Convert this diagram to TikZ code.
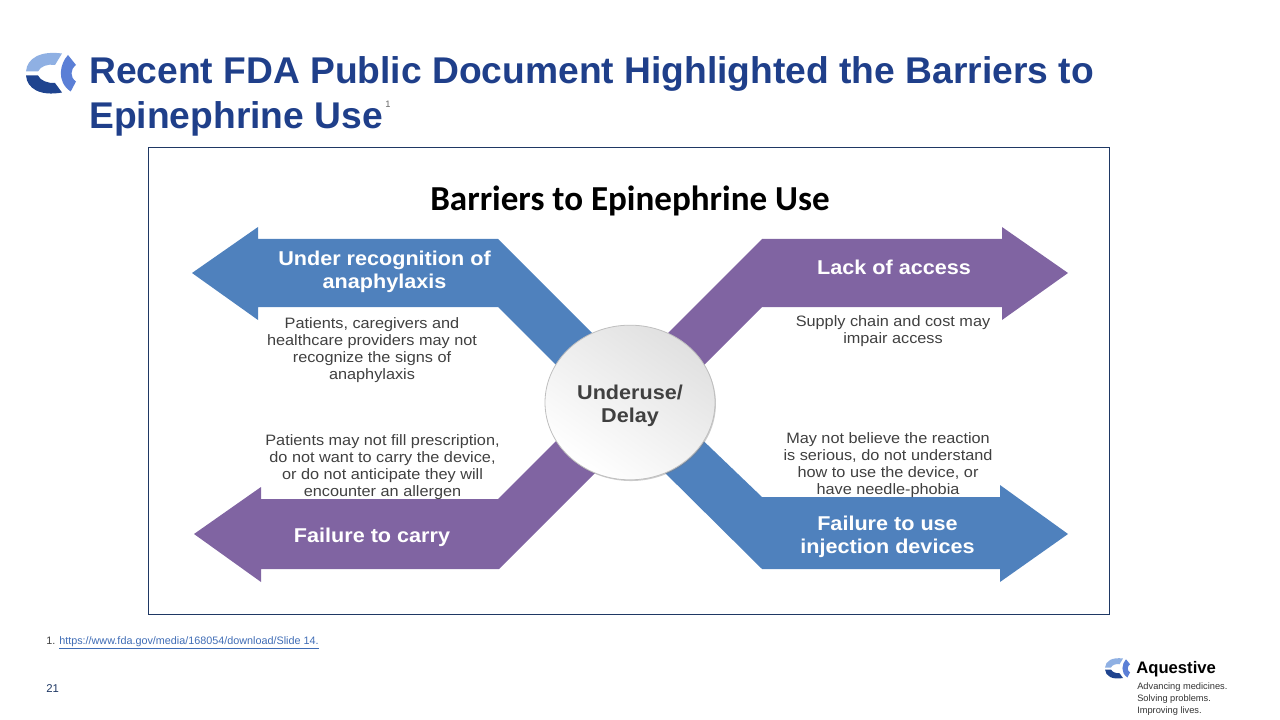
\documentclass[tikz,border=0pt]{standalone}
\usepackage{fontspec}
\setmainfont{Liberation Sans}
\newfontfamily\calibrifont{Carlito}
\newfontfamily\widefont[FakeStretch=1.08]{Liberation Sans}
\usetikzlibrary{shadows,shapes.geometric}
\definecolor{titleblue}{HTML}{1F3F8A}
\definecolor{arrowblue}{HTML}{4F81BD}
\definecolor{arrowpurple}{HTML}{8064A2}
\definecolor{framenavy}{HTML}{1F3864}
\definecolor{bodygrey}{HTML}{404040}
\definecolor{linkblue}{HTML}{3F6CB5}
\definecolor{logolight}{HTML}{8FB0E3}
\definecolor{logomid}{HTML}{5B7FD6}
\definecolor{logodark}{HTML}{1F448F}
\tikzset{
  armlabel/.style={text=white,font=\widefont\bfseries\fontsize{15}{17}\selectfont,align=center},
  desc/.style={text=bodygrey,font=\widefont\fontsize{11.3}{12.7}\selectfont,align=center},
  small/.style={font=\fontsize{6.95}{8.8}\selectfont,align=left,text=black!80},
  logomark/.pic={
    \fill[logolight] (-24,-2) .. controls (-23,-15) and (-10,-23) .. (12,-20) -- (5,-8.5) .. controls (-2,-10) and (-10,-7) .. (-12,-2) -- cycle;
    \fill[logodark] (-24,2) .. controls (-23,15) and (-10,23) .. (12,19) -- (5,9.5) .. controls (-2,10) and (-10,7) .. (-12,2) -- cycle;
    \fill[logomid] (18,-18.5) .. controls (10,-10) and (6,8) .. (20.7,18) -- (26,8) .. controls (20,4) and (20,-4) .. (26,-8.5) -- cycle;
  }
}
\begin{document}
\begin{tikzpicture}[x=0.75pt,y=-0.75pt]
  \useasboundingbox (0,0) rectangle (1280,720);

  % Heading
  \pic at (50,73.5) {logomark};
  \node[anchor=west,inner sep=0pt,text=titleblue,font=\bfseries\fontsize{27.9}{33.75}\selectfont,align=left] (heading) at (89,96.5) {Recent FDA Public Document Highlighted the Barriers to\\Epinephrine Use};
  \node[text=black!60,font=\fontsize{7}{8}\selectfont] (headingref) at (388,104) {1};

  % Frame
  \draw[framenavy,line width=0.6pt] (148,147) rectangle (1109,614);
  \node[font=\calibrifont\bfseries\fontsize{26.3}{30}\selectfont] (barriers) at (630,201) {Barriers to Epinephrine Use};

  % Upper left arm
  \fill[arrowblue] (192,273) -- (258,227) -- (258,239) -- (498,239) -- (610,351) -- (570,379) -- (498,307) -- (258,307) -- (258,320) -- cycle;
  % Upper right arm
  \fill[arrowpurple] (1068,273) -- (1002,227) -- (1002,239) -- (762,239) -- (650,351) -- (690,379) -- (762,307) -- (1002,307) -- (1002,320) -- cycle;
  % Lower left arm
  \fill[arrowpurple] (194,534) -- (261,487) -- (261,499) -- (498,499) -- (570,427) -- (610,458) -- (499,569) -- (261,569) -- (261,582) -- cycle;
  % Lower right arm
  \fill[arrowblue] (1068,534) -- (1000,485) -- (1000,497) -- (762,497) -- (690,428) -- (650,458) -- (762,569) -- (1000,569) -- (1000,582) -- cycle;

  % Centre
  \node[ellipse,minimum width=127.5pt,minimum height=116pt,inner sep=0pt,draw=black!25,line width=0.6pt,
    top color=black!12,bottom color=white,shading angle=-35,
    drop shadow={shadow xshift=0.7pt,shadow yshift=-0.9pt,opacity=0.4}] (centre) at (630,402.5) {};
  \node[text=bodygrey,font=\widefont\bfseries\fontsize{15}{17.5}\selectfont,align=center] (centrelabel) at (630,405.5) {Underuse/\\Delay};

  % Arm labels
  \node[armlabel] (recognition) at (384.5,272) {Under recognition of\\anaphylaxis};
  \node[armlabel] (access) at (894,267.5) {Lack of access};
  \node[armlabel] (carry) at (372,537) {Failure to carry};
  \node[armlabel] (devices) at (887.5,537) {Failure to use\\injection devices};

  % Descriptions
  \node[desc] (recognitionnote) at (372,350.5) {Patients, caregivers and\\healthcare providers may not\\recognize the signs of\\anaphylaxis};
  \node[desc] (accessnote) at (893,331) {Supply chain and cost may\\impair access};
  \node[desc] (carrynote) at (382.5,467.5) {Patients may not fill prescription,\\do not want to carry the device,\\or do not anticipate they will\\encounter an allergen};
  \node[desc] (devicesnote) at (888,465.5) {May not believe the reaction\\is serious, do not understand\\how to use the device, or\\have needle-phobia};

  % Footer
  \node[anchor=west,text=black!75,font=\fontsize{8.1}{9}\selectfont,inner sep=0pt] (footnote) at (46,643) {1. \textcolor{linkblue}{\underline{https://www.fda.gov/media/168054/download/Slide 14.}}};
  \node[anchor=west,text=framenavy,font=\fontsize{8.5}{10}\selectfont,inner sep=0pt] (pagenum) at (46,688.5) {21};

  % Company mark
  \pic[scale=0.5] at (1117,668.5) {logomark};
  \node[anchor=west,inner sep=0pt,font=\bfseries\fontsize{12.5}{15}\selectfont] (company) at (1136,669) {Aquestive};
  \node[small,anchor=north west,inner sep=0pt] (tagline) at (1137,683) {Advancing medicines.\\Solving problems.\\Improving lives.};
\end{tikzpicture}
\end{document}
